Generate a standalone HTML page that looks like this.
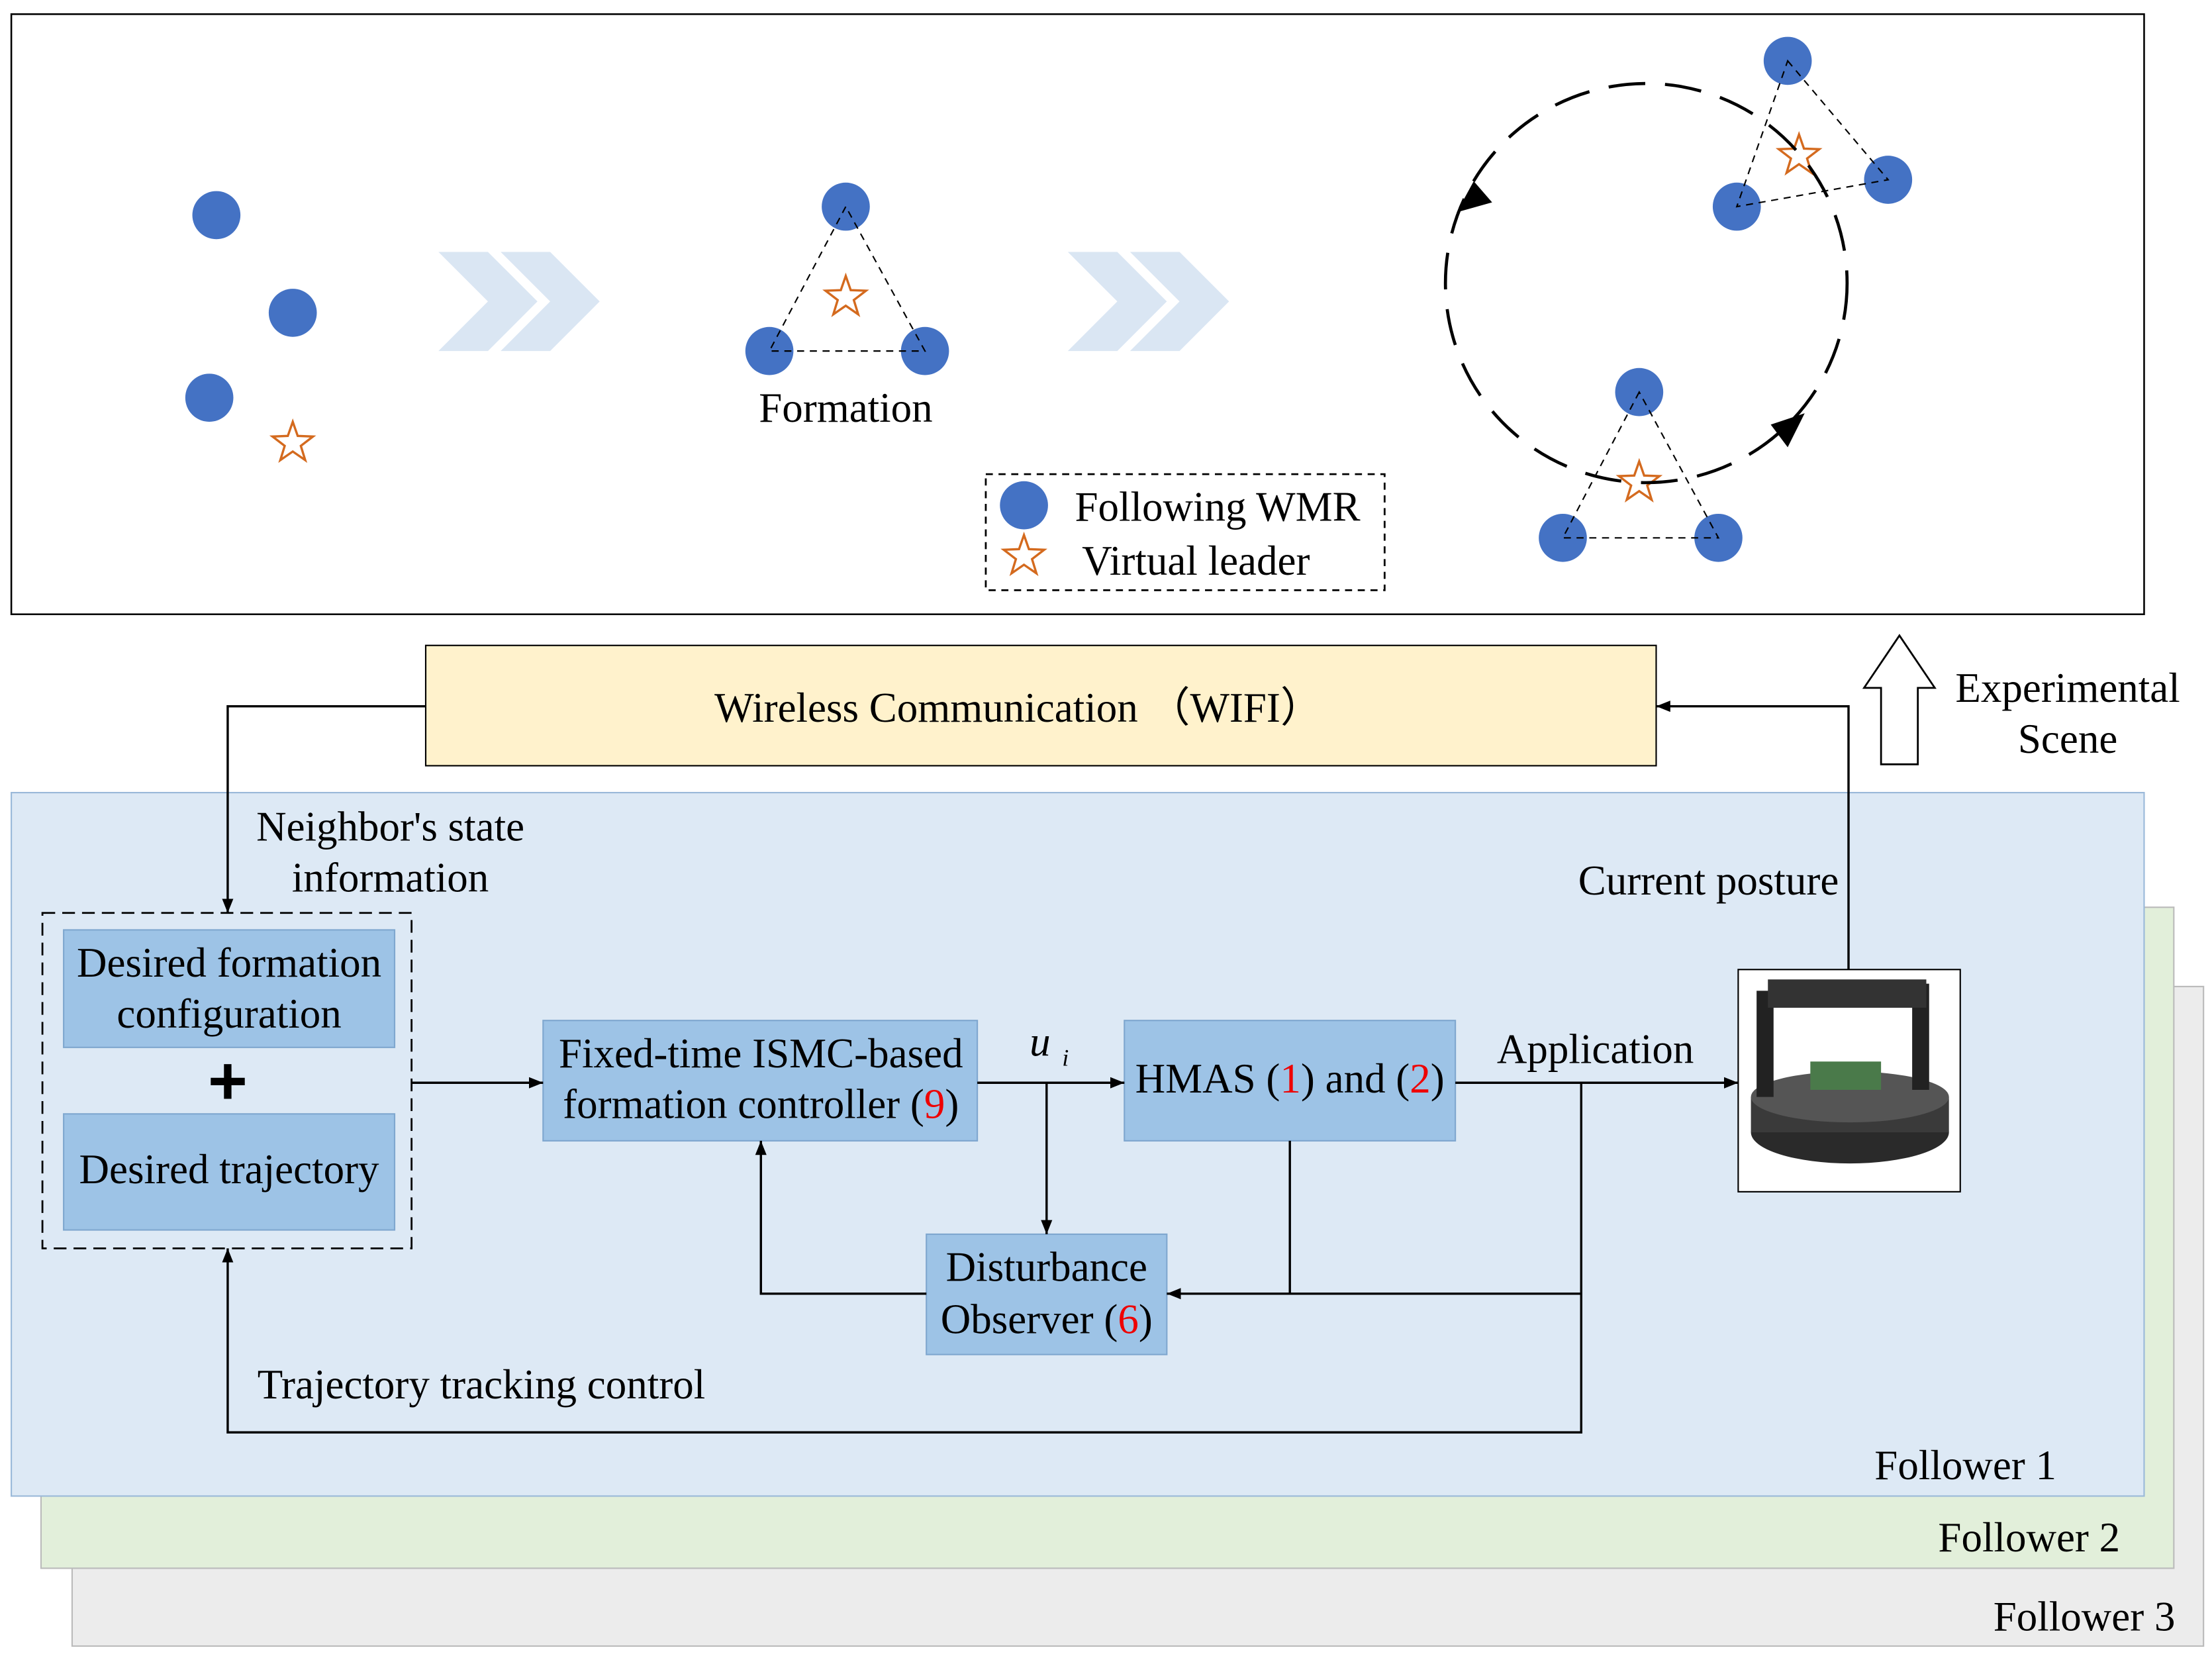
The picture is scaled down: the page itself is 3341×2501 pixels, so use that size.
<!DOCTYPE html>
<html><head><meta charset="utf-8"><style>html,body{margin:0;padding:0;background:#fff}svg{display:block}</style></head><body>
<svg width="3341" height="2501" viewBox="0 0 1564 1170" preserveAspectRatio="none" xmlns="http://www.w3.org/2000/svg" font-family="Liberation Serif, serif" font-size="29.5">
<defs>
<marker id="a" markerWidth="10" markerHeight="8" refX="10" refY="4" orient="auto" markerUnits="userSpaceOnUse"><path d="M0,0L10,4L0,8z" fill="#000"/></marker>
<g id="st"><polygon points="0,-15 3.5,-5 14.3,-4.6 5.7,2 8.8,12.1 0,6 -8.8,12.1 -5.7,2 -14.3,-4.6 -3.5,-5" fill="#fff" stroke="#d46a1e" stroke-width="1.6"/></g>
</defs>
<rect x="8" y="10" width="1508" height="424" fill="#fff" stroke="#000" stroke-width="1.2"/>
<g fill="#4472c4">
<circle cx="153" cy="152" r="17"/><circle cx="207" cy="221" r="17"/><circle cx="148" cy="281" r="17"/>
<circle cx="598" cy="146" r="17"/><circle cx="544" cy="248" r="17"/><circle cx="654" cy="248" r="17"/>
<circle cx="724" cy="357" r="17"/>
<circle cx="1264" cy="43" r="17"/><circle cx="1335" cy="127" r="17"/><circle cx="1228" cy="146" r="17"/>
<circle cx="1159" cy="277" r="17"/><circle cx="1105" cy="380" r="17"/><circle cx="1215" cy="380" r="17"/>
</g>
<use href="#st" x="207" y="313"/><use href="#st" x="598" y="210"/><use href="#st" x="724" y="393"/><use href="#st" x="1272" y="110"/><use href="#st" x="1159" y="341"/>
<g fill="#dae6f3">
<polygon points="310,178 345,178 380,213 345,248 310,248 345,213"/><polygon points="354,178 389,178 424,213 389,248 354,248 389,213"/>
<polygon points="755,178 790,178 825,213 790,248 755,248 790,213"/><polygon points="799,178 834,178 869,213 834,248 799,248 834,213"/>
</g>
<g fill="none" stroke="#000" stroke-width="1" stroke-dasharray="5,4">
<polygon points="598,146 544,248 654,248"/>
<polygon points="1264,43 1335,127 1228,146"/>
<polygon points="1159,277 1105,380 1215,380"/>
<rect x="697" y="335" width="282" height="82" stroke-width="1.3"/>
</g>
<ellipse cx="1164" cy="200" rx="142" ry="141" fill="none" stroke="#000" stroke-width="2.2" stroke-dasharray="26,14"/>
<polygon points="1030,150 1055,143 1042,128" fill="#000"/>
<polygon points="1276,292 1252,300 1264,316" fill="#000"/>
<text x="598" y="298" text-anchor="middle">Formation</text>
<text x="760" y="368">Following WMR</text>
<text x="765" y="406">Virtual leader</text>
<rect x="301" y="456" width="870" height="85" fill="#fff2cc" stroke="#000" stroke-width="1"/>
<text x="720" y="510" text-anchor="middle">Wireless Communication （WIFI）</text>
<polygon points="1330,540 1356,540 1356,486 1368,486 1343,449 1318,486 1330,486" fill="#fff" stroke="#000" stroke-width="1.3"/>
<text x="1462" y="496" text-anchor="middle">Experimental</text><text x="1462" y="532" text-anchor="middle">Scene</text>
<rect x="51" y="697" width="1507" height="466" fill="#ececec" stroke="#bbb"/>
<rect x="29" y="641" width="1508" height="467" fill="#e2efda" stroke="#bbb"/>
<rect x="8" y="560" width="1508" height="497" fill="#dde9f5" stroke="#9ab9d9"/>
<text x="1538" y="1152" text-anchor="end">Follower 3</text>
<text x="1499" y="1096" text-anchor="end">Follower 2</text>
<text x="1454" y="1045" text-anchor="end">Follower  1</text>
<rect x="30" y="645" width="261" height="237" fill="none" stroke="#000" stroke-width="1.3" stroke-dasharray="9,5"/>
<g fill="#9dc3e6" stroke="#7fa7cf">
<rect x="45" y="657" width="234" height="83"/><rect x="45" y="787" width="234" height="82"/>
<rect x="384" y="721" width="307" height="85"/><rect x="795" y="721" width="234" height="85"/><rect x="655" y="872" width="170" height="85"/>
</g>
<text x="162" y="690" text-anchor="middle">Desired formation</text><text x="162" y="726" text-anchor="middle">configuration</text>
<text x="161" y="780" text-anchor="middle" font-size="48" font-weight="bold" font-family="Liberation Sans, sans-serif">+</text>
<text x="162" y="836" text-anchor="middle">Desired trajectory</text>
<text x="538" y="754" text-anchor="middle">Fixed-time ISMC-based</text>
<text x="538" y="790" text-anchor="middle">formation controller (<tspan fill="#e00">9</tspan>)</text>
<text x="912" y="772" text-anchor="middle">HMAS (<tspan fill="#e00">1</tspan>) and (<tspan fill="#e00">2</tspan>)</text>
<text x="740" y="905" text-anchor="middle">Disturbance</text><text x="740" y="942" text-anchor="middle">Observer (<tspan fill="#e00">6</tspan>)</text>
<text x="728" y="746" font-style="italic">u</text><text x="751" y="753" font-style="italic" font-size="17">i</text>
<text x="1128" y="751" text-anchor="middle">Application</text>
<text x="276" y="594" text-anchor="middle">Neighbor's state</text><text x="276" y="630" text-anchor="middle">information</text>
<text x="1208" y="632" text-anchor="middle">Current posture</text>
<text x="182" y="988">Trajectory tracking control</text>
<g fill="none" stroke="#000" stroke-width="1.6">
<polyline points="301,499 161,499 161,645" marker-end="url(#a)"/>
<polyline points="1307,685 1307,499 1171,499" marker-end="url(#a)"/>
<line x1="291" y1="765" x2="384" y2="765" marker-end="url(#a)"/>
<line x1="691" y1="765" x2="795" y2="765" marker-end="url(#a)"/>
<line x1="740" y1="765" x2="740" y2="872" marker-end="url(#a)"/>
<line x1="1029" y1="765" x2="1229" y2="765" marker-end="url(#a)"/>
<polyline points="1118,765 1118,1012 161,1012 161,882" marker-end="url(#a)"/>
<polyline points="912,806 912,914 825,914" marker-end="url(#a)"/>
<line x1="1118" y1="914" x2="912" y2="914"/>
<polyline points="655,914 538,914 538,806" marker-end="url(#a)"/>
</g>
<rect x="1229" y="685" width="157" height="157" fill="#fff" stroke="#000" stroke-width="1"/>
<ellipse cx="1308" cy="800" rx="70" ry="22" fill="#2a2a2a"/>
<rect x="1238" y="775" width="140" height="25" fill="#3a3a3a"/>
<ellipse cx="1308" cy="775" rx="70" ry="18" fill="#555"/>
<rect x="1242" y="700" width="12" height="75" fill="#222"/><rect x="1352" y="695" width="12" height="75" fill="#222"/>
<rect x="1250" y="692" width="112" height="20" fill="#333"/>
<rect x="1280" y="750" width="50" height="20" fill="#4a7a4a"/>
</svg>
</body></html>
